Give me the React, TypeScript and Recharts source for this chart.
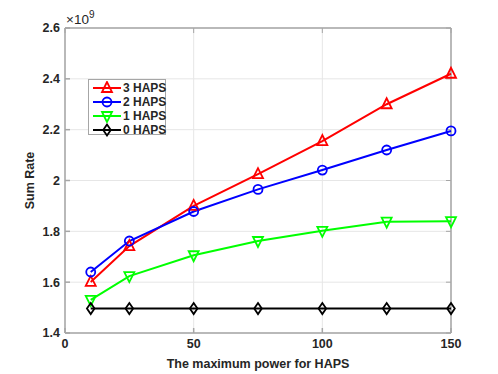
import React from 'react';
import { LineChart, Line, XAxis, YAxis, CartesianGrid, ReferenceLine } from 'recharts';

const powers = [10, 25, 50, 75, 100, 125, 150];
const haps3 = [1.601, 1.742, 1.9, 2.025, 2.155, 2.3, 2.42];
const haps2 = [1.64, 1.762, 1.878, 1.965, 2.041, 2.12, 2.195];
const haps1 = [1.53, 1.624, 1.706, 1.762, 1.802, 1.838, 1.84];
const haps0 = [1.496, 1.496, 1.496, 1.496, 1.496, 1.496, 1.496];
const xTicks = [0, 50, 100, 150];
const yTicks = [1.4, 1.6, 1.8, 2.0, 2.2, 2.4, 2.6];
const X_DOMAIN: [number, number] = [0, 150];
const Y_DOMAIN: [number, number] = [1.4, 2.6];

const seriesInfo = [
  { key: 'h3', name: '3 HAPS', color: '#ff0000', shape: 'up' },
  { key: 'h2', name: '2 HAPS', color: '#0000ff', shape: 'circle' },
  { key: 'h1', name: '1 HAPS', color: '#00ff00', shape: 'down' },
  { key: 'h0', name: '0 HAPS', color: '#000000', shape: 'diamond' },
];

const data = powers.map((p, i) => ({ p, h3: haps3[i], h2: haps2[i], h1: haps1[i], h0: haps0[i] }));

const FONT = '"Liberation Sans", Arial, Helvetica, sans-serif';
const TXT = '#262626';
const AX = '#a6a6a6';

// inward tick lengths for the top and right box edges, as fractions of the axis span
const xTickFrac = 0.013;
const yTickFrac = 0.0165;

function Marker({ cx, cy, shape, color }: { cx: number; cy: number; shape: string; color: string }) {
  const r = 5;
  if (shape === 'circle') return <circle cx={cx} cy={cy} r={4.5} fill="none" stroke={color} strokeWidth={1.8} />;
  let pts = '';
  if (shape === 'up') pts = `${cx},${cy - r - 1} ${cx - r},${cy + r - 1} ${cx + r},${cy + r - 1}`;
  if (shape === 'down') pts = `${cx},${cy + r + 1} ${cx - r},${cy - r + 1} ${cx + r},${cy - r + 1}`;
  if (shape === 'diamond') pts = `${cx},${cy - 5.5} ${cx + 3.8},${cy} ${cx},${cy + 5.5} ${cx - 3.8},${cy}`;
  return <polygon points={pts} fill="none" stroke={color} strokeWidth={1.8} />;
}

const makeDot = (shape: string, color: string) => (props: any) => {
  const { cx, cy, index } = props;
  if (cx == null || cy == null) return <g key={index} />;
  return <Marker key={index} cx={cx} cy={cy} shape={shape} color={color} />;
};

const fmtY = (v: number) => (Math.round(v * 10) / 10).toString();

const tickStyle = { fill: TXT, fontSize: 12.5, fontWeight: 'bold', fontFamily: FONT };

export default function App() {
  const yTop = Y_DOMAIN[1];
  const xRight = X_DOMAIN[1];
  const ySpan = Y_DOMAIN[1] - Y_DOMAIN[0];
  const xSpan = X_DOMAIN[1] - X_DOMAIN[0];
  return (
    <div style={{ position: 'absolute', left: 0, top: 0, width: 498, height: 374, background: '#fff', fontFamily: FONT }}>
      <LineChart
        width={498}
        height={374}
        data={data}
        margin={{ top: 28, right: 47, bottom: 0, left: 0 }}
      >
        <CartesianGrid stroke="#e6e6e6" strokeWidth={1} verticalValues={xTicks} horizontalValues={yTicks} />
        <XAxis
          dataKey="p"
          type="number"
          domain={X_DOMAIN}
          ticks={xTicks}
          height={41}
          stroke={AX}
          strokeWidth={1.5}
          tickSize={-5}
          tickMargin={11}
          tick={tickStyle}
          label={{ value: 'The maximum power for HAPS', position: 'insideBottom', offset: 6, ...tickStyle }}
        />
        <YAxis
          type="number"
          domain={Y_DOMAIN}
          ticks={yTicks}
          width={65}
          stroke={AX}
          strokeWidth={1.5}
          tickSize={-5}
          tickMargin={10}
          tickFormatter={fmtY}
          tick={tickStyle}
          label={{ value: 'Sum Rate', angle: -90, position: 'insideLeft', offset: 30, style: { textAnchor: 'middle' }, ...tickStyle }}
        />
        <ReferenceLine y={yTop} stroke={AX} strokeWidth={1.5} ifOverflow="visible" />
        <ReferenceLine x={xRight} stroke={AX} strokeWidth={1.5} ifOverflow="visible" />
        {xTicks.map((t) => (
          <ReferenceLine
            key={'tx' + t}
            segment={[{ x: t, y: yTop }, { x: t, y: yTop - ySpan * yTickFrac }]}
            stroke={AX}
            strokeWidth={1}
            ifOverflow="visible"
          />
        ))}
        {yTicks.map((t) => (
          <ReferenceLine
            key={'ty' + t}
            segment={[{ x: xRight, y: t }, { x: xRight - xSpan * xTickFrac, y: t }]}
            stroke={AX}
            strokeWidth={1}
            ifOverflow="visible"
          />
        ))}
        {seriesInfo.map((s) => (
          <Line
            key={s.key}
            dataKey={s.key}
            name={s.name}
            type="linear"
            stroke={s.color}
            strokeWidth={2}
            dot={makeDot(s.shape, s.color)}
            activeDot={false}
            isAnimationActive={false}
          />
        ))}
      </LineChart>
      <div style={{ position: 'absolute', left: 66, top: 7, fontSize: 13.5, lineHeight: '16px', color: TXT, fontFamily: FONT, whiteSpace: 'nowrap' }}>
        ×10<sup style={{ fontSize: 10, verticalAlign: 6 }}>9</sup>
      </div>
      <div
        style={{
          position: 'absolute',
          left: 88,
          top: 79,
          width: 78,
          height: 56,
          border: '1px solid #a6a6a6',
          background: '#fff',
          boxSizing: 'border-box',
        }}
      >
        {seriesInfo.map((s, i) => (
          <div key={s.key} style={{ position: 'absolute', left: 0, top: 1 + i * 14, height: 14, display: 'flex', alignItems: 'center' }}>
            <svg width={34} height={14} style={{ display: 'block' }}>
              <line x1={4} y1={7} x2={32} y2={7} stroke={s.color} strokeWidth={2} />
              <Marker cx={18} cy={7} shape={s.shape} color={s.color} />
            </svg>
            <span style={{ fontSize: 12, fontWeight: 'bold', color: TXT, lineHeight: '14px', whiteSpace: 'nowrap' }}>{s.name}</span>
          </div>
        ))}
      </div>
    </div>
  );
}
